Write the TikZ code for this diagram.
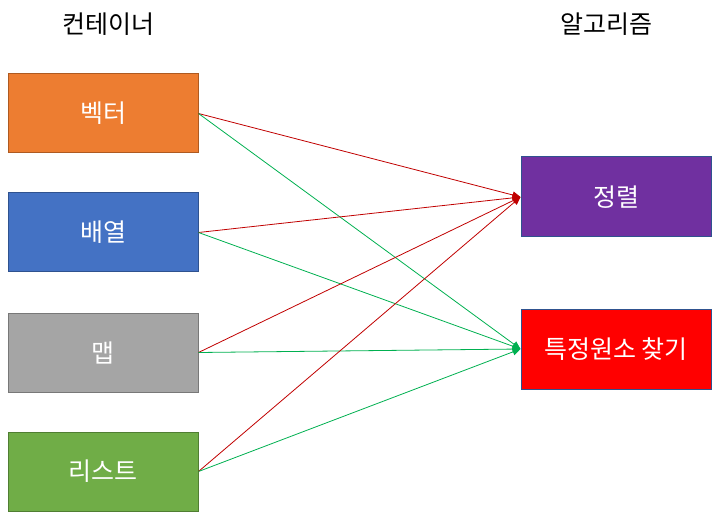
\documentclass[tikz,border=0pt]{standalone}
\usepackage{fontspec}
\newfontfamily\kr{Noto Sans CJK KR}
\usetikzlibrary{arrows.meta}
\definecolor{corange}{HTML}{ED7D31}\definecolor{borange}{HTML}{AE5A21}
\definecolor{cblue}{HTML}{4472C4}\definecolor{bblue}{HTML}{2F528F}
\definecolor{cgray}{HTML}{A5A5A5}\definecolor{bgray}{HTML}{787878}
\definecolor{cgreen}{HTML}{70AD47}\definecolor{bgreen}{HTML}{507E32}
\definecolor{cpurple}{HTML}{7030A0}
\definecolor{cred}{HTML}{FF0000}
\definecolor{lred}{HTML}{C00000}\definecolor{lgreen}{HTML}{00B050}
\tikzset{
  box/.style={minimum width=190pt,minimum height=79pt,inner sep=0pt,line width=1pt,text=white,font=\kr\fontsize{25}{29}\selectfont},
  ttl/.style={font=\kr\fontsize{25}{29}\selectfont,text=black},
  redl/.style={draw=lred,line width=0.8pt,-{Triangle[length=8pt,width=7pt]}},
  grnl/.style={draw=lgreen,line width=0.8pt,-{Triangle[length=8pt,width=7pt]}}
}
\begin{document}
\begin{tikzpicture}[x=1pt,y=-1pt]
\useasboundingbox (0,0) rectangle (720,521);
\node[ttl] (t1) at (108,24) {컨테이너};
\node[ttl] (t2) at (606,24) {알고리즘};
\node[box,fill=corange,draw=borange] (v) at (103,113.5) {벡터};
\node[box,fill=cblue,draw=bblue] (a) at (103,232.5) {배열};
\node[box,fill=cgray,draw=bgray] (m) at (103,352.5) {맵};
\node[box,fill=cgreen,draw=bgreen] (l) at (103,471.5) {리스트};
\node[box,fill=cpurple,draw=bblue,minimum height=80pt] (s) at (616,197) {정렬};
\node[box,fill=cred,draw=bblue,minimum height=80pt] (f) at (616,349) {특정원소 찾기};
\foreach \n in {v,a,m,l}{
  \draw[redl] (\n.east) -- (s.west);
  \draw[grnl] (\n.east) -- (f.west);
}
\end{tikzpicture}
\end{document}
